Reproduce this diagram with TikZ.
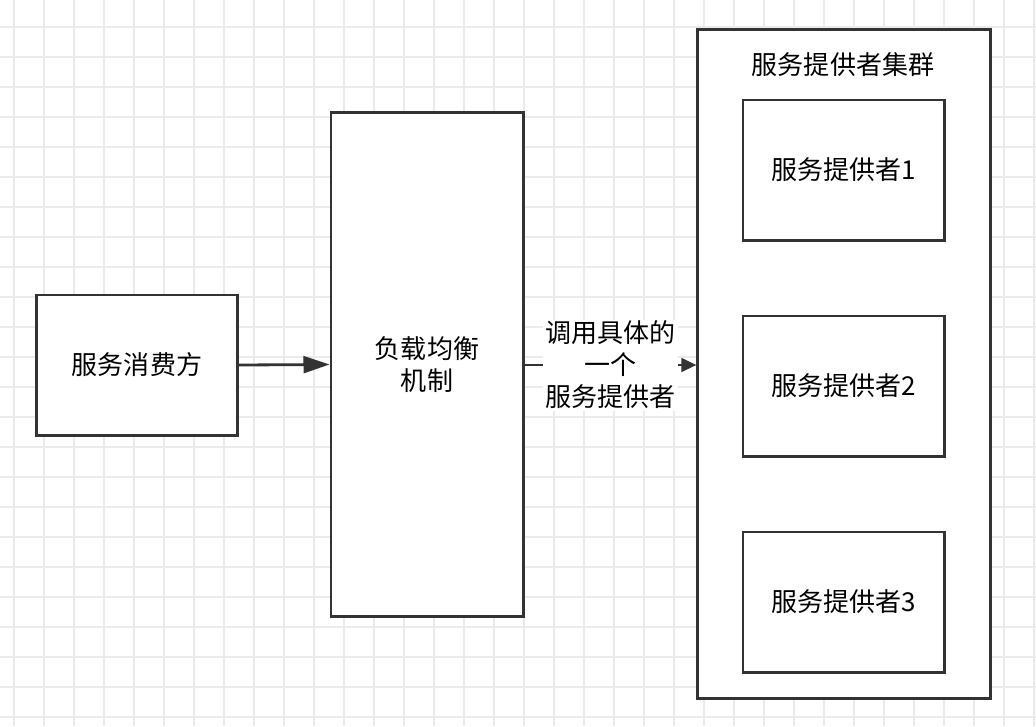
\documentclass[tikz,border=0pt]{standalone}
\usepackage{fontspec}
\setmainfont{Noto Sans CJK SC}
\usetikzlibrary{arrows.meta}
\definecolor{boxgray}{HTML}{333333}
\definecolor{gridgray}{HTML}{EBEBEB}
\begin{document}
\begin{tikzpicture}[x=0.025cm,y=-0.025cm,
    box/.style={draw=boxgray, line width=2.1pt, fill=white, inner sep=0pt, align=center, font=\fontsize{18.5}{22.8}\selectfont},
    gridline/.style={draw=gridgray, line width=0.9pt},
    link/.style={draw=boxgray, line width=2pt}]
                \useasboundingbox (0,0) rectangle (1036,726);
                \fill[white] (0,0) rectangle (1036,726);
                \foreach \gx in {14,44,...,1034} \draw[gridline] (\gx,0) -- (\gx,726);
                \foreach \gy in {27,57,...,726} \draw[gridline] (0,\gy) -- (1036,\gy);
                \node[box, minimum width=5cm, minimum height=3.5cm] (consumer) at (137,365) {服务消费方};
                \node[box, minimum width=4.8cm, minimum height=12.575cm] (balancer) at (427,364.5) {负载均衡\\机制};
                \node[box, minimum width=7.3cm, minimum height=16.7cm] (cluster) at (844,364) {};
                \node[font=\fontsize{18.5}{22.8}\selectfont] (title) at (843,65) {服务提供者集群};
                \node[box, minimum width=5.025cm, minimum height=3.5cm] (prov1) at (843.5,170) {服务提供者1};
                \node[box, minimum width=5.025cm, minimum height=3.5cm] (prov2) at (843.5,386) {服务提供者2};
                \node[box, minimum width=5.025cm, minimum height=3.5cm] (prov3) at (843.5,602) {服务提供者3};
                \draw[link, -{Triangle[length=0.65cm, width=0.42cm]}] (consumer.east) -- (balancer.west);
                \draw[link, -{Triangle[length=0.38cm, width=0.34cm]}] (balancer.east |- 0,365) -- (cluster.west |- 0,365)
                    node[midway, fill=white, inner xsep=2pt, inner ysep=1pt, align=center, font=\fontsize{18.5}{22.8}\selectfont] (call) {调用具体的\\一个\\服务提供者};
            \end{tikzpicture}
\end{document}
